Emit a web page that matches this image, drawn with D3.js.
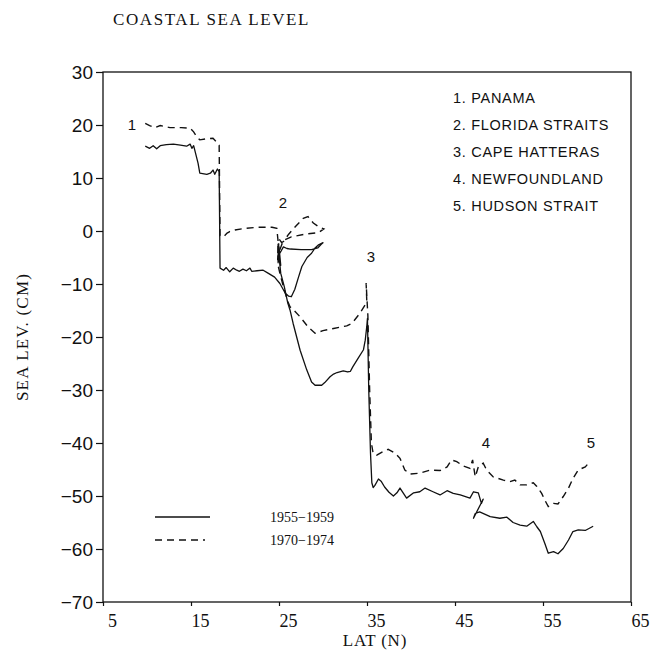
<!DOCTYPE html>
<html>
<head>
<meta charset="utf-8">
<script src="https://cdn.jsdelivr.net/npm/d3@7"></script>
<style>
  body { margin:0; background:#fff; }
  text { fill:#111; }
</style>
</head>
<body>
<div id="chart"></div>
<script>
// sea level (cm) along the coast, [latitude N, level]
const sl5559 = [
  [9.8,16.0],[10.3,15.6],[10.7,16.1],[11.1,15.5],[11.5,16.1],[12.2,16.3],[13.0,16.4],[13.8,16.2],
  [14.5,16.0],[14.9,16.4],[15.1,15.6],[15.3,16.1],[15.8,12.8],[16.0,10.9],[16.8,10.7],[17.2,10.9],
  [17.5,11.5],[17.7,10.7],[18.0,11.7],[18.2,11.2],[18.3,-7.0],[18.7,-7.4],[19.0,-6.9],[19.4,-7.7],
  [19.8,-7.0],[20.2,-7.4],[20.5,-7.6],[20.9,-7.2],[21.3,-7.5],[21.7,-7.0],[21.9,-7.6],[22.5,-7.5],
  [23.2,-7.4],[23.8,-8.0],[24.5,-8.7],[25.1,-9.9],[25.7,-11.7],[26.1,-12.3],[26.4,-12.4],[26.8,-11.0],
  [27.2,-8.8],[27.6,-6.7],[28.2,-5.0],[28.7,-4.2],[29.1,-3.2],[29.5,-2.6],[30.0,-2.2],[29.8,-2.5],
  [29.4,-3.2],[28.7,-3.5],[27.5,-3.5],[26.3,-3.4],[25.9,-3.3],[25.5,-3.0],[25.1,-4.2],[24.9,-2.5],
  [24.9,-6.0],[25.0,-3.0],[25.2,-6.5],[24.95,-4.0],[25.2,-8.0],[25.6,-10.5],[26.0,-13.6],[26.25,-14.9],
  [26.6,-17.4],[27.4,-22.5],[28.15,-26.2],[28.7,-28.5],[29.1,-29.1],[29.85,-29.1],[30.2,-28.6],[30.8,-27.5],
  [31.2,-27.0],[31.6,-26.7],[32.3,-26.4],[32.8,-26.6],[33.1,-26.5],[33.4,-25.6],[34.0,-24.0],[34.6,-22.4],
  [34.8,-20.6],[34.97,-18.1],[35.05,-16.5],[35.2,-30.0],[35.4,-42.0],[35.55,-47.5],[35.7,-48.4],[35.9,-48.0],
  [36.3,-46.8],[36.6,-47.2],[37.0,-48.3],[37.5,-49.3],[38.0,-50.0],[38.4,-49.4],[38.75,-48.5],[39.5,-50.4],
  [40.3,-49.4],[41.0,-49.2],[41.6,-48.5],[42.5,-49.2],[43.3,-49.8],[44.1,-49.0],[44.8,-49.5],[45.6,-49.8],
  [46.7,-50.4],[47.1,-49.2],[47.65,-49.4],[48.0,-51.4],[48.2,-50.6],[47.1,-54.2],[47.3,-53.3],[47.8,-53.0],
  [49.0,-53.9],[50.1,-54.2],[50.9,-54.0],[51.6,-55.0],[52.4,-55.5],[53.15,-55.7],[53.9,-54.8],[54.3,-55.8],
  [54.7,-56.7],[55.2,-58.9],[55.6,-60.8],[56.2,-60.5],[56.7,-60.9],[57.3,-59.9],[57.9,-58.3],[58.4,-56.7],
  [59.0,-56.4],[59.8,-56.5],[60.7,-55.7]
];
const sl7074 = [
  [9.8,20.3],[10.3,19.9],[10.9,19.5],[11.5,19.9],[12.6,19.5],[13.9,19.5],[14.9,19.4],[15.3,18.7],
  [15.65,17.8],[16.0,17.2],[16.8,17.4],[17.5,17.5],[17.9,16.8],[18.2,16.2],[18.3,-0.9],[18.7,-1.1],
  [19.1,-0.4],[19.4,-0.1],[20.0,0.2],[21.1,0.5],[22.6,0.7],[24.2,0.7],[24.75,0.5],[24.9,-2.0],
  [24.85,-5.5],[25.0,-1.5],[25.3,-2.2],[25.5,-2.0],[26.1,-0.6],[26.9,0.9],[27.76,2.4],[28.3,2.7],
  [28.9,1.5],[29.5,0.8],[30.1,0.4],[29.5,-0.3],[27.95,-0.6],[26.4,-1.1],[25.5,-1.8],[25.1,-3.5],
  [24.9,-6.5],[25.1,-8.0],[25.5,-10.5],[26.0,-13.3],[26.25,-14.3],[26.6,-14.8],[27.4,-16.2],[28.3,-18.1],
  [29.1,-19.3],[30.0,-18.8],[31.2,-18.4],[32.7,-17.9],[33.3,-17.4],[34.2,-15.5],[34.77,-14.0],[34.97,-13.0],
  [34.9,-9.8],[35.1,-16.0],[35.3,-30.0],[35.5,-40.0],[35.7,-42.0],[36.1,-42.3],[36.85,-41.6],[37.4,-41.2],
  [38.2,-41.9],[38.75,-42.9],[39.3,-45.1],[39.9,-45.85],[41.0,-45.7],[42.2,-45.1],[43.3,-45.2],[44.1,-44.5],
  [44.6,-43.2],[45.2,-43.5],[45.9,-44.3],[46.7,-44.8],[47.0,-43.2],[47.3,-46.4],[47.65,-44.5],[48.2,-43.8],
  [48.6,-45.1],[49.35,-46.4],[50.5,-47.0],[51.25,-47.3],[51.8,-47.0],[52.4,-47.9],[53.15,-47.9],[53.9,-47.5],
  [54.3,-48.2],[54.85,-49.5],[55.2,-50.75],[55.6,-52.0],[56.2,-51.4],[56.7,-51.5],[57.3,-50.1],[57.9,-48.5],
  [58.4,-46.7],[59.0,-45.1],[59.8,-44.5],[60.4,-43.4]
];
const xTicks = [5, 15, 25, 35, 45, 55, 65];
const yTicks = [30, 20, 10, 0, -10, -20, -30, -40, -50, -60, -70];
const places = ["1. PANAMA", "2. FLORIDA STRAITS", "3. CAPE HATTERAS", "4. NEWFOUNDLAND", "5. HUDSON STRAIT"];
// number markers: [label, lat, level]
const markers = [["1", 8.3, 20.0], ["2", 25.45, 5.3], ["3", 35.45, -4.9], ["4", 48.5, -40.0], ["5", 60.45, -40.0]];
const periods = ["1955\u22121959", "1970\u22121974"];

const W = 658, H = 665;
const m = {left:103, right:27, top:72, bottom:63};
const svg = d3.select("#chart").append("svg").attr("width", W).attr("height", H);

const x = d3.scaleLinear().domain([5, 65]).range([m.left, W - m.right]);
const y = d3.scaleLinear().domain([-70, 30]).range([H - m.bottom, m.top]);

const serif = "'Liberation Serif','DejaVu Serif',serif";
const sans = "'Liberation Sans',Arial,sans-serif";

svg.append("text").attr("x", 113).attr("y", 25)
  .attr("font-family", serif).attr("font-size", 17).attr("letter-spacing", 1.6)
  .text("COASTAL SEA LEVEL");

// frame
svg.append("rect").attr("x", x(5)).attr("y", y(30))
  .attr("width", x(65) - x(5)).attr("height", y(-70) - y(30))
  .attr("fill", "none").attr("stroke", "#111").attr("stroke-width", 1.3);

const yAxis = svg.append("g").attr("transform", `translate(${x(5)},0)`)
  .call(d3.axisLeft(y).tickValues(yTicks).tickSize(7).tickPadding(3)
    .tickFormat(d => d < 0 ? "\u2212" + Math.abs(d) : d));
yAxis.select(".domain").remove();
yAxis.selectAll("text").attr("font-family", sans).attr("font-size", 19).attr("fill", "#111");
yAxis.selectAll("line").attr("stroke", "#111").attr("stroke-width", 1.2);

const xAxis = svg.append("g").attr("transform", `translate(0,${y(-70)})`)
  .call(d3.axisBottom(x).tickValues(xTicks).tickSize(4).tickPadding(8));
xAxis.select(".domain").remove();
xAxis.selectAll("text").attr("font-family", serif).attr("font-size", 18).attr("fill", "#111").attr("dx", 9);
xAxis.selectAll("line").attr("stroke", "#111").attr("stroke-width", 1.2);

svg.append("text").attr("x", 375).attr("y", 646).attr("text-anchor", "middle")
  .attr("font-family", serif).attr("font-size", 17).attr("letter-spacing", 0.8).text("LAT (N)");
svg.append("text").attr("transform", "translate(28,337) rotate(-90)").attr("text-anchor", "middle")
  .attr("font-family", serif).attr("font-size", 17).attr("letter-spacing", 1.2).text("SEA LEV. (CM)");

const line = d3.line().x(d => x(d[0])).y(d => y(d[1]));
svg.append("path").datum(sl5559).attr("d", line)
  .attr("fill", "none").attr("stroke", "#111").attr("stroke-width", 1.3).attr("stroke-linejoin", "round");
svg.append("path").datum(sl7074).attr("d", line)
  .attr("fill", "none").attr("stroke", "#111").attr("stroke-width", 1.4).attr("stroke-dasharray", "7,5");

svg.selectAll(".mk").data(markers).enter().append("text")
  .attr("x", d => x(d[1])).attr("y", d => y(d[2])).attr("dy", "0.35em")
  .attr("text-anchor", "middle").attr("font-family", sans).attr("font-size", 15).text(d => d[0]);

svg.selectAll(".pl").data(places).enter().append("text")
  .attr("x", 453).attr("y", (d, i) => 98 + i * 27).attr("dy", "0.35em")
  .attr("font-family", sans).attr("font-size", 14.5).attr("letter-spacing", 0.7).text(d => d);

// series key
const key = svg.append("g");
periods.forEach((p, i) => {
  const ky = 517 + i * 23;
  key.append("line").attr("x1", 155).attr("x2", i ? 205 : 210).attr("y1", ky).attr("y2", ky)
    .attr("stroke", "#111").attr("stroke-width", 1.3).attr("stroke-dasharray", i ? "7,5" : null);
  key.append("text").attr("x", 270).attr("y", ky).attr("dy", "0.35em")
    .attr("font-family", serif).attr("font-size", 14).text(p);
});
</script>
</body>
</html>
